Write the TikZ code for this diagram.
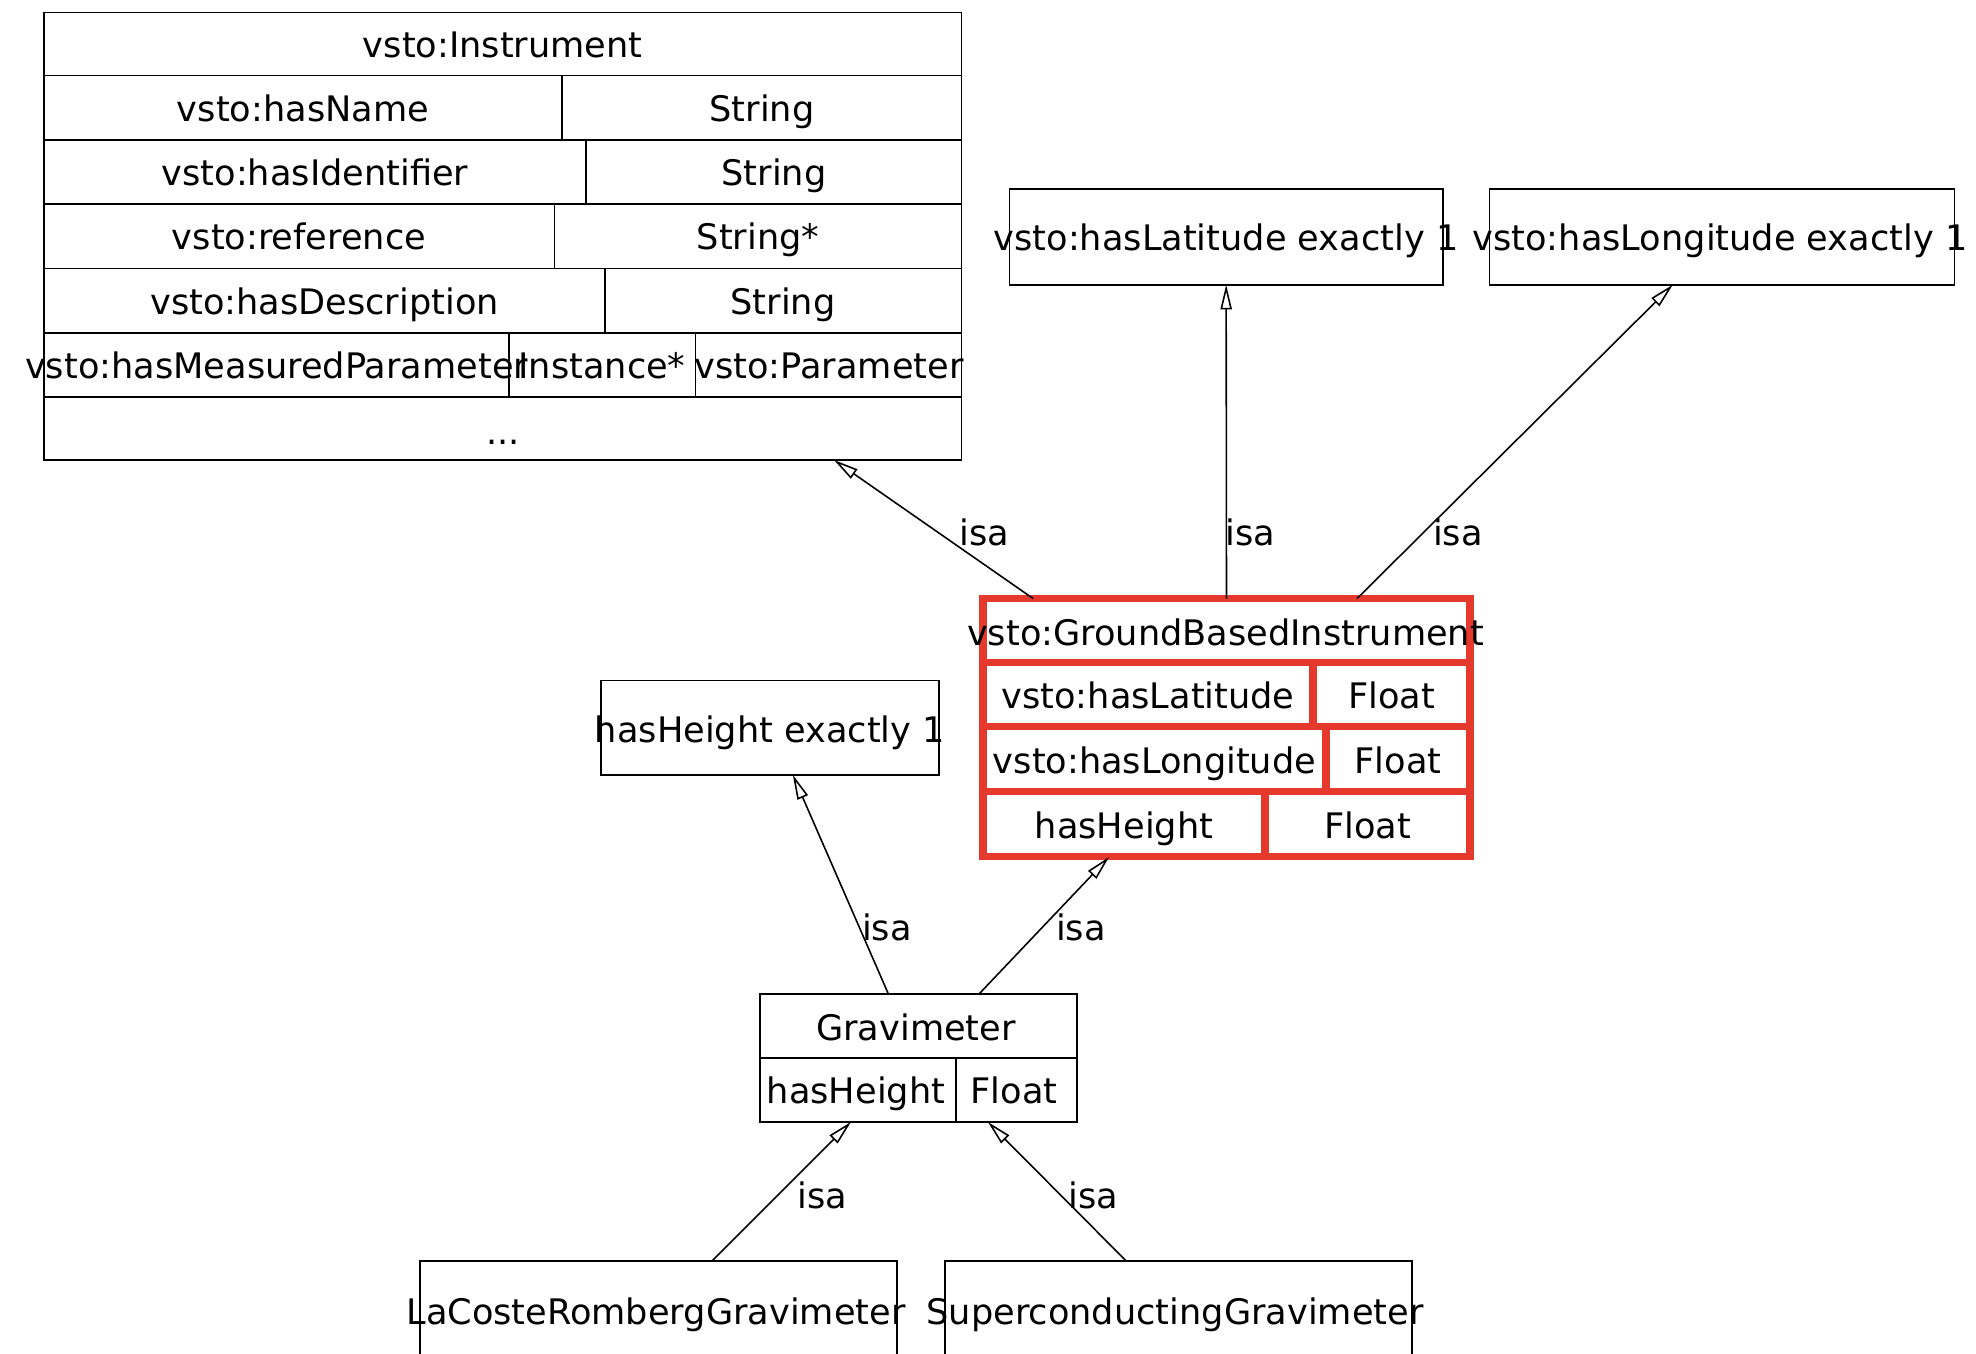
\documentclass[tikz,border=0pt]{standalone}
\usepackage{fontspec}
\setmainfont{DejaVu Sans}
\usetikzlibrary{arrows.meta, calc}

\definecolor{selred}{RGB}{229,57,45}

\tikzset{
  box/.style={draw, line width=0.5pt, inner sep=0pt, outer sep=0pt},
  selbox/.style={draw=selred, line width=2pt, inner sep=0pt, outer sep=0pt},
  isa/.style={line width=0.45pt, -{Triangle[open, length=7pt, width=3.2pt]}},
  isalabel/.style={anchor=base west, inner sep=0pt},
}

\begin{document}
\begin{tikzpicture}[every node/.style={text height=1.6ex, text depth=0.4ex}]
\useasboundingbox (0,0) rectangle (19.76,13.54);

\node[box, anchor=north west, minimum width=9.174cm, minimum height=4.474cm] (inst) at (0.441,13.414) {};
\foreach \y in {12.784,12.141,11.498,10.856,10.213,9.57}
  \draw[line width=0.5pt] (0.441,\y) -- (9.615,\y);
\draw[line width=0.5pt] (5.62,12.784) -- (5.62,12.141);
\draw[line width=0.5pt] (5.86,12.141) -- (5.86,11.498);
\draw[line width=0.5pt] (5.545,11.498) -- (5.545,10.856);
\draw[line width=0.5pt] (6.049,10.856) -- (6.049,10.213);
\draw[line width=0.5pt] (5.091,10.213) -- (5.091,9.57);
\draw[line width=0.5pt] (6.956,10.213) -- (6.956,9.57);
\node (instTitle) at (5.028,13.08) {vsto:Instrument};
\node (instName) at (3.03,12.445) {vsto:hasName};
\node (instNameT) at (7.62,12.445) {String};
\node (instId) at (3.15,11.80) {vsto:hasIdentifier};
\node (instIdT) at (7.74,11.80) {String};
\node (instRef) at (2.99,11.16) {vsto:reference};
\node (instRefT) at (7.58,11.16) {String*};
\node (instDesc) at (3.245,10.515) {vsto:hasDescription};
\node (instDescT) at (7.83,10.515) {String};
\node (instParam) at (2.766,9.87) {vsto:hasMeasuredParameter};
\node (instParamC) at (6.02,9.87) {Instance*};
\node (instParamT) at (8.29,9.87) {vsto:Parameter};
\node (instMore) at (5.028,9.21) {...};

\node[box, anchor=north west, minimum width=4.335cm, minimum height=0.958cm] (lat) at (10.094,11.65) {};
\node (latText) at (12.26,11.15) {vsto:hasLatitude exactly 1};
\node[box, anchor=north west, minimum width=4.65cm, minimum height=0.958cm] (lon) at (14.896,11.65) {};
\node (lonText) at (17.2,11.15) {vsto:hasLongitude exactly 1};

\node[selbox, anchor=north west, minimum width=4.87cm, minimum height=2.584cm] (gbi) at (9.83,7.554) {};
\foreach \y in {6.91,6.27,5.62}
  \draw[selred, line width=2pt] (9.83,\y) -- (14.70,\y);
\draw[selred, line width=2pt] (13.13,6.91) -- (13.13,6.27);
\draw[selred, line width=2pt] (13.26,6.27) -- (13.26,5.62);
\draw[selred, line width=2pt] (12.65,5.62) -- (12.65,4.97);
\node (gbiTitle) at (12.255,7.20) {vsto:GroundBasedInstrument};
\node (gbiLat) at (11.48,6.57) {vsto:hasLatitude};
\node (gbiLatT) at (13.915,6.57) {Float};
\node (gbiLon) at (11.545,5.925) {vsto:hasLongitude};
\node (gbiLonT) at (13.98,5.925) {Float};
\node (gbiHeight) at (11.24,5.275) {hasHeight};
\node (gbiHeightT) at (13.675,5.275) {Float};

\node[box, anchor=north west, minimum width=3.377cm, minimum height=0.945cm] (hgt) at (6.011,6.735) {};
\node (hgtText) at (7.70,6.23) {hasHeight exactly 1};

\node[box, anchor=north west, minimum width=3.17cm, minimum height=1.28cm] (grav) at (7.60,3.60) {};
\draw[line width=0.5pt] (7.60,2.96) -- (10.77,2.96);
\draw[line width=0.5pt] (9.56,2.96) -- (9.56,2.32);
\node (gravTitle) at (9.16,3.25) {Gravimeter};
\node (gravHeight) at (8.56,2.62) {hasHeight};
\node (gravHeightT) at (10.14,2.62) {Float};

\node[box, anchor=north west, minimum width=4.77cm, minimum height=0.96cm] (lcr) at (4.20,0.93) {};
\node (lcrText) at (6.56,0.41) {LaCosteRombergGravimeter};
\node[box, anchor=north west, minimum width=4.67cm, minimum height=0.96cm] (scg) at (9.45,0.93) {};
\node (scgText) at (11.75,0.41) {SuperconductingGravimeter};

\draw[isa] ($(gbi.north west)!0.103!(gbi.north east)$) -- ($(inst.south west)!0.861!(inst.south east)$)
  node[isalabel, pos=0.382, xshift=0.02cm] (isaInst) {isa};
\draw[isa] ($(gbi.north west)!0.5!(gbi.north east)$) -- ($(lat.south west)!0.5!(lat.south east)$)
  node[isalabel, pos=0.169, xshift=-0.02cm] (isaLat) {isa};
\draw[isa] ($(gbi.north west)!0.768!(gbi.north east)$) -- ($(lon.south west)!0.394!(lon.south east)$)
  node[isalabel, pos=0.169, xshift=0.22cm] (isaLon) {isa};
\draw[isa] ($(grav.north west)!0.405!(grav.north east)$) -- ($(hgt.south west)!0.568!(hgt.south east)$)
  node[isalabel, pos=0.242, xshift=-0.04cm] (isaHgt) {isa};
\draw[isa] ($(grav.north west)!0.691!(grav.north east)$) -- ($(gbi.south west)!0.259!(gbi.south east)$)
  node[isalabel, pos=0.387, xshift=0.26cm] (isaGbi) {isa};
\draw[isa] ($(lcr.north west)!0.612!(lcr.north east)$) -- ($(grav.south west)!0.287!(grav.south east)$)
  node[isalabel, pos=0.381, xshift=0.32cm] (isaLcr) {isa};
\draw[isa] ($(scg.north west)!0.388!(scg.north east)$) -- ($(grav.south west)!0.719!(grav.south east)$)
  node[isalabel, pos=0.381, xshift=-0.06cm] (isaScg) {isa};

\end{tikzpicture}
\end{document}
